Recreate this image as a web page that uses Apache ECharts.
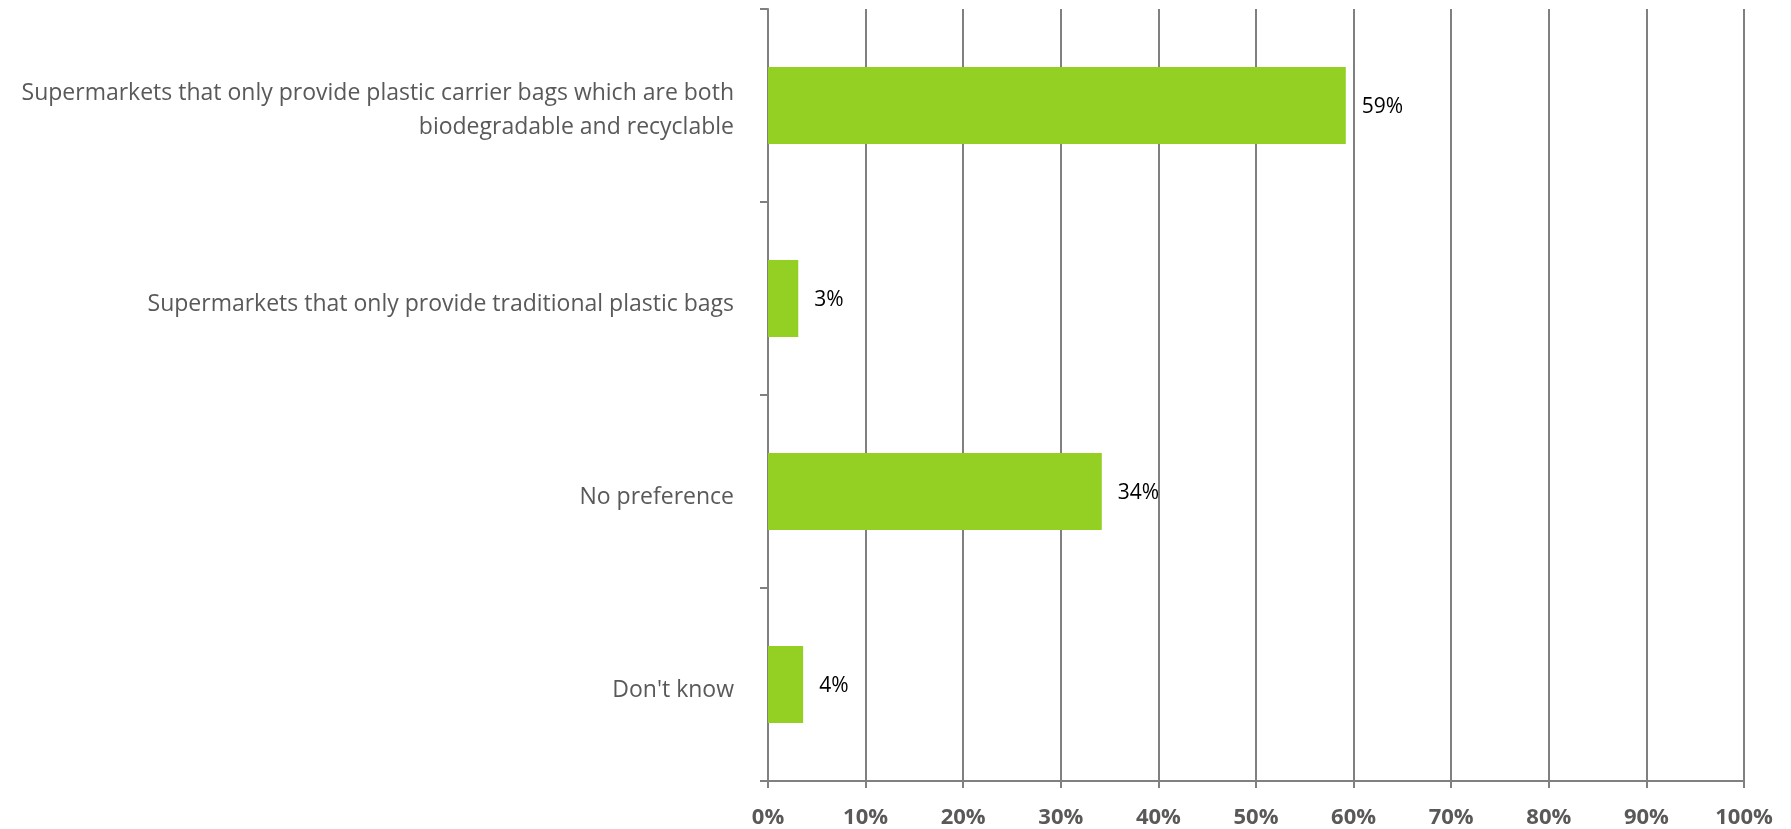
<!DOCTYPE html>
<html>
<head>
<meta charset="utf-8">
<script src="https://cdn.jsdelivr.net/npm/echarts@6/dist/echarts.min.js"></script>
<style>
html,body{margin:0;padding:0;background:#fff;}
#chart{width:1791px;height:829px;}
</style>
</head>
<body>
<div id="chart"></div>
<script>
const categories = [
  "Supermarkets that only provide plastic carrier bags which are both\nbiodegradable and recyclable",
  "Supermarkets that only provide traditional plastic bags",
  "No preference",
  "Don't know"
];
const values = [59.2, 3.1, 34.2, 3.6];
const xTicks = { min: 0, max: 100, interval: 10 };

const chart = echarts.init(document.getElementById('chart'), null, { renderer: 'canvas' });
const fontFamily = '"Open Sans", "Noto Sans", sans-serif';
chart.setOption({
  animation: false,
  grid: { left: 768, right: 47, top: 9, bottom: 46.5, containLabel: false },
  xAxis: {
    type: 'value',
    min: xTicks.min, max: xTicks.max, interval: xTicks.interval,
    axisLine: { show: true, lineStyle: { color: '#808080', width: 2 } },
    axisTick: { show: true, length: 7, lineStyle: { color: '#808080', width: 2 } },
    splitLine: { show: true, lineStyle: { color: '#808080', width: 2 } },
    axisLabel: {
      formatter: '{value}%', color: '#595959', fontSize: 22, fontWeight: 'bold',
      fontFamily: fontFamily, margin: 26
    }
  },
  yAxis: {
    type: 'category',
    data: categories,
    inverse: true,
    axisLine: { show: true, lineStyle: { color: '#808080', width: 2 } },
    axisTick: { show: true, length: 8, alignWithLabel: false, lineStyle: { color: '#808080', width: 2 } },
    splitLine: { show: false },
    axisLabel: {
      color: '#595959', fontSize: 23, fontFamily: fontFamily, margin: 34,
      align: 'right',
      formatter: v => {
        const lines = v.split('\n');
        const s = lines.length > 1 ? 'b' : 'a';
        return lines.map(l => '{' + s + '|' + l + '}').join('\n');
      },
      rich: {
        a: { color: '#595959', fontSize: 23, fontFamily: fontFamily, lineHeight: 22, padding: [12, 0, 0, 0] },
        b: { color: '#595959', fontSize: 23, fontFamily: fontFamily, lineHeight: 34, padding: [10, 0, 0, 0] }
      }
    }
  },
  series: [{
    type: 'bar',
    data: values,
    barCategoryGap: '60%',
    itemStyle: { color: '#94D024' },
    label: {
      show: true, position: 'right', distance: 16, offset: [0, 2],
      color: '#000000', fontSize: 21, fontFamily: fontFamily,
      formatter: p => Math.round(p.value) + '%'
    }
  }]
});
</script>
</body>
</html>
